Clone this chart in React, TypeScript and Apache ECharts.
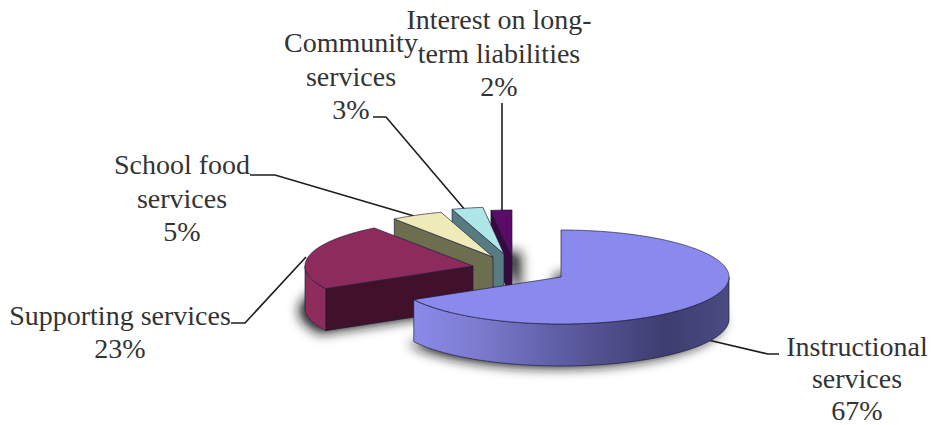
import React, { useEffect, useRef } from "react";
import * as echarts from "echarts";

// Spending shares by function, drawn clockwise from 12 o'clock.
const categories = [
  "Instructional services",
  "Supporting services",
  "School food services",
  "Community services",
  "Interest on long-term liabilities",
];
const shares = [67, 23, 5, 3, 2];
const labelLines = [
  ["Instructional", "services"],
  ["Supporting services"],
  ["School food", "services"],
  ["Community", "services"],
  ["Interest on long-", "term liabilities"],
];

// Projection of the tilted disc.
const RX = 168;
const RY = 47;
const DEPTH = 42;

// Slice apex on the canvas once pulled out of the pie.
const apexes: number[][] = [
  [561, 277],
  [473, 266],
  [493, 257],
  [504, 254],
  [512, 257],
];
const topColors = ["#8a8aee", "#8c2b5c", "#eeebb9", "#afe7e8", "#5a0a69"];
const wallColors = ["#8a8aee", "#41112b", "#6d6d50", "#567b80", "#37093f"];
const rimColors: any[] = [
  {
    type: "linear",
    x: 0,
    y: 0,
    x2: 1,
    y2: 0,
    colorStops: [
      { offset: 0, color: "#8a8aea" },
      { offset: 0.2, color: "#7c7bcf" },
      { offset: 0.45, color: "#5f5fa6" },
      { offset: 0.8, color: "#3d3d70" },
      { offset: 1, color: "#4b4b84" },
    ],
  },
  "#8e2c5c",
  "#6d6d50",
  "#567b80",
  "#37093f",
];
const shadowOffsets: number[][] = [
  [-6, 2],
  [-6, 3],
  [0, 0],
  [0, 0],
  [9, 0],
];

// Leader lines and text blocks.
const leaders: number[][][] = [
  [[708, 340], [768, 354], [779, 354]],
  [[231, 323], [245, 323], [306, 257]],
  [[250, 175], [275, 175], [414, 216]],
  [[373, 117], [386, 117], [466, 211]],
  [[502, 103], [502, 210]],
];
const labelAnchors: number[][] = [
  [857, 378],
  [120, 332],
  [182, 198],
  [351, 76],
  [499, 53],
];
const lineSteps = [32, 33.5, 33.5, 33.5, 33.5];

const EDGE = "rgba(28,28,60,0.75)";
const DEG = Math.PI / 180;

const sliceAngles = (() => {
  let acc = 0;
  return shares.map((v) => {
    const start = acc;
    acc += (v / 100) * 360;
    return [start, acc];
  });
})();

const rimPoint = (apex: number[], deg: number, drop = 0) => [
  apex[0] + RX * Math.sin(deg * DEG),
  apex[1] - RY * Math.cos(deg * DEG) + drop,
];

const arc = (apex: number[], from: number, to: number, drop = 0) => {
  const pts: number[][] = [];
  const steps = Math.max(2, Math.ceil(Math.abs(to - from) * 2));
  for (let i = 0; i <= steps; i++) pts.push(rimPoint(apex, from + ((to - from) * i) / steps, drop));
  return pts;
};

const face = (points: number[][], fill: any, stroke = EDGE) => ({
  type: "polygon",
  shape: { points },
  style: { fill, stroke, lineWidth: 0.9 },
});

// Soft shadow cast from the underside of each slice.
const renderShadow = (_: any, api: any) => {
  const i = api.value(0);
  const apex = apexes[i];
  const [a, b] = sliceAngles[i];
  return {
    type: "polygon",
    shape: { points: [[apex[0], apex[1] + DEPTH], ...arc(apex, a, b, DEPTH)] },
    style: {
      fill: "#555",
      shadowBlur: 12,
      shadowColor: "rgba(20,20,20,0.95)",
      shadowOffsetX: shadowOffsets[i][0],
      shadowOffsetY: shadowOffsets[i][1],
    },
  };
};

// Walls first, top face last, so that each slice reads as a solid wedge.
const renderSlice = (_: any, api: any) => {
  const i = api.value(0);
  const apex = apexes[i];
  const [a, b] = sliceAngles[i];
  const children: any[] = [];
  const wall = (deg: number) => {
    const p = rimPoint(apex, deg);
    return face(
      [apex, p, [p[0], p[1] + DEPTH], [apex[0], apex[1] + DEPTH]],
      wallColors[i],
    );
  };
  if (Math.sin(a * DEG) < -1e-6) children.push(wall(a));
  if (Math.sin(b * DEG) > 1e-6) children.push(wall(b));
  const rimFrom = Math.max(a, 90);
  const rimTo = Math.min(b, 270);
  if (rimTo > rimFrom) {
    children.push(
      face(
        [...arc(apex, rimFrom, rimTo), ...arc(apex, rimTo, rimFrom, DEPTH)],
        rimColors[i],
      ),
    );
  }
  children.push(face([apex, ...arc(apex, a, b)], topColors[i]));
  return { type: "group", children };
};

const paintOrder = [4, 3, 2, 1, 0];

export default function App() {
  const ref = useRef<HTMLDivElement>(null);

  useEffect(() => {
    document.body.style.margin = "0";
    const chart = echarts.init(ref.current!, null, { renderer: "svg" });
    // One text per line, so the last line can sit close to the bottom edge.
    const labels = categories.flatMap((_, i) => {
      const rows = [...labelLines[i], `${shares[i]}%`];
      return rows.map((text, k) => ({
        type: "text",
        x: labelAnchors[i][0],
        y: labelAnchors[i][1] + (k - (rows.length - 1) / 2) * lineSteps[i],
        style: {
          text,
          font: '28px "Liberation Serif", serif',
          fill: "#333",
          align: "center",
          verticalAlign: "middle",
        },
      }));
    });
    const lines = leaders.map((points) => ({
      type: "polyline",
      shape: { points },
      style: { stroke: "#1c1c1c", lineWidth: 1.6, fill: "none" },
    }));
    chart.setOption({
      animation: false,
      backgroundColor: "#fff",
      series: [
        {
          type: "custom",
          name: "shadow",
          coordinateSystem: "none",
          silent: true,
          renderItem: renderShadow,
          data: paintOrder.map((i) => [i]),
          z: 1,
        },
        {
          type: "custom",
          name: "spending",
          coordinateSystem: "none",
          silent: true,
          renderItem: renderSlice,
          data: paintOrder.map((i) => [i]),
          z: 2,
        },
      ],
      graphic: { elements: [...lines, ...labels] },
    });
    return () => chart.dispose();
  }, []);

  return <div ref={ref} style={{ width: 932, height: 425 }} />;
}
